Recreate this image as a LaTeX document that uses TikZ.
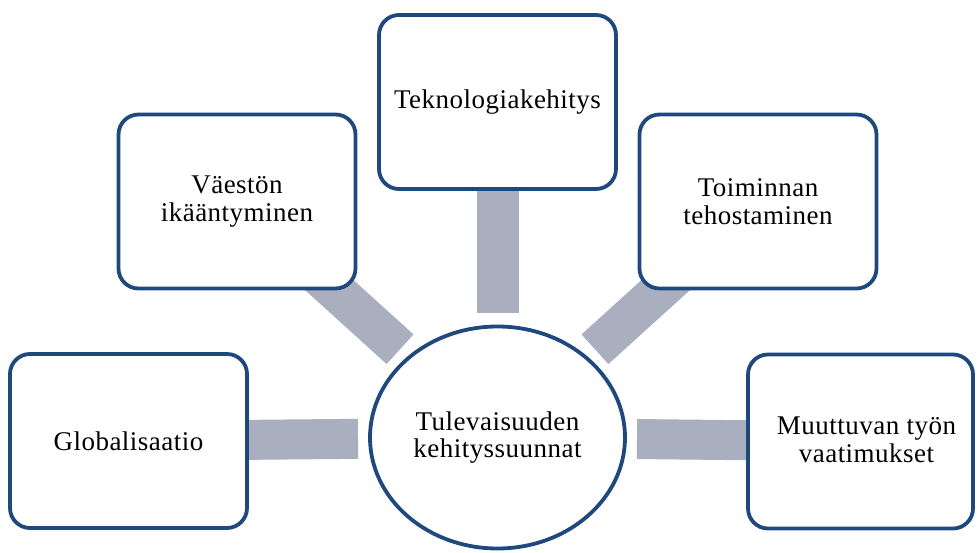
\documentclass[tikz,border=0pt]{standalone}
\usepackage{fontspec}
\setmainfont{Liberation Serif}[LetterSpace=1.8]
\usetikzlibrary{calc,shapes.geometric,backgrounds}
\definecolor{edgeblue}{HTML}{1F497D}
\definecolor{linkgray}{HTML}{A9AFBE}
\begin{document}
\begin{tikzpicture}[x=1pt,y=-1pt,
  every node/.style={font=\fontsize{27}{27.5}\selectfont, align=center, inner sep=0pt},
  topic/.style={draw=edgeblue, line width=3.8pt, fill=white, rounded corners=20pt,
    minimum width=237pt, minimum height=174pt},
  hub/.style={ellipse, draw=edgeblue, line width=3.8pt, fill=white,
    minimum width=255pt, minimum height=222pt},
  link/.style={draw=linkgray, line width=40pt}]
\useasboundingbox (0,0) rectangle (977,553);

% central ellipse
\node[hub] (hub) at (497.5,437.5) {Tulevaisuuden\\kehityssuunnat};

% surrounding topics
\node[topic] (glob) at (128.5,441) {Globalisaatio};
\node[topic] (vae)  at (237,201.5) {Väestön\\ikääntyminen};
\node[topic] (tek)  at (497.5,102) {Teknologiakehitys};
\node[topic] (toim) at (758,201.5) {Toiminnan\\tehostaminen};
\node[topic, minimum width=225pt] (muut) at (860.5,441.5) {};
\node (muutlbl) at (866.5,440) {Muuttuvan työn\\vaatimukset};

% connecting bands behind the shapes
\begin{pgfonlayer}{background}
  \draw[link] ($(hub.center)!139.5pt!(glob.center)$) -- (glob.center);
  \draw[link] ($(hub.center)!131.5pt!(vae.center)$) -- (vae.center);
  \draw[link, line width=42pt] ($(hub.center)!124.5pt!(tek.center)$) -- (tek.center);
  \draw[link] ($(hub.center)!131.5pt!(toim.center)$) -- (toim.center);
  \draw[link] ($(hub.center)!139.5pt!(muut.center)$) -- (muut.center);
\end{pgfonlayer}
\end{tikzpicture}
\end{document}
